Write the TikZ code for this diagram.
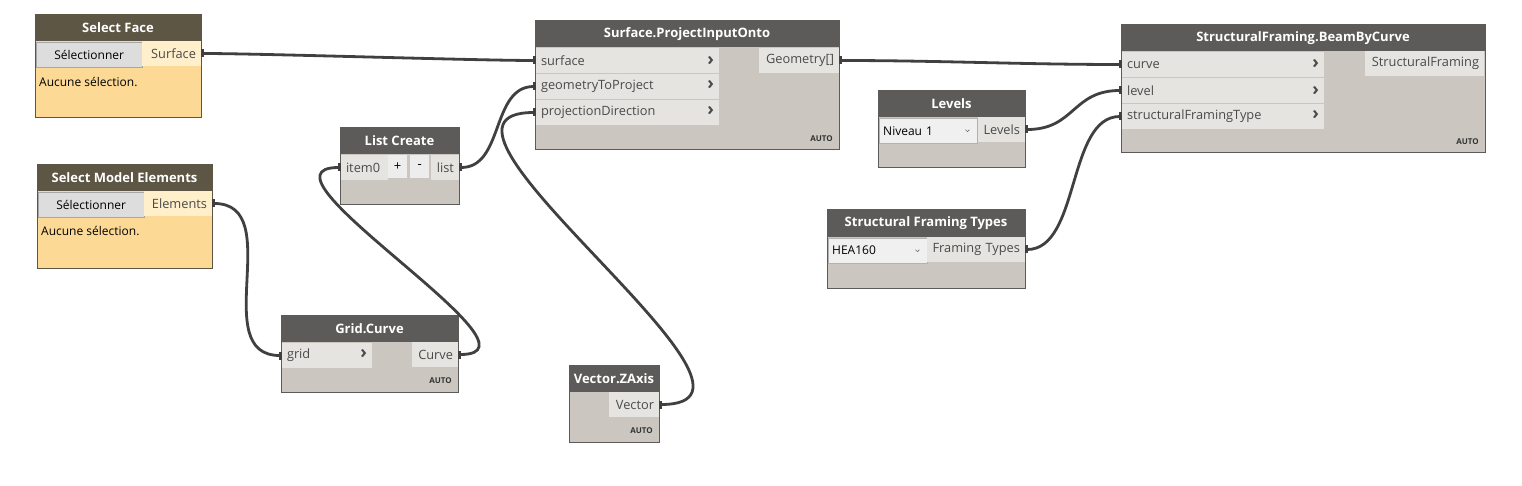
\documentclass[tikz,border=0pt]{standalone}
\usepackage{fontspec}
\setmainfont{Open Sans}
\usepackage{tikz}
\usetikzlibrary{arrows.meta}

\definecolor{hdrgray}{HTML}{5D5B59}
\definecolor{hdrbrown}{HTML}{5E5644}
\definecolor{bodygray}{HTML}{CBC7C0}
\definecolor{rowgray}{HTML}{E6E4E0}
\definecolor{bodyyel}{HTML}{FCDA96}
\definecolor{outyel}{HTML}{FFEFCA}
\definecolor{btngray}{HTML}{DDDDDD}
\definecolor{wirecol}{HTML}{404040}
\definecolor{porttext}{HTML}{4A4A4A}
\definecolor{dropfill}{HTML}{F0F0F0}

\newcommand\ptfont{\fontsize{12.8}{15}\selectfont}
\newcommand\chev{{\fontsize{18}{15}\selectfont\bfseries ›}}

\tikzset{
	nodebox/.style={draw=hdrgray, line width=1pt, fill=bodygray, anchor=north west, inner sep=0pt, outer sep=0pt},
	hdr/.style={fill=hdrgray, text=white, font=\fontsize{13}{15}\selectfont\bfseries, anchor=north west, inner sep=0pt, outer sep=0pt},
	inport/.style={fill=rowgray, text=porttext, font=\ptfont, anchor=north west, minimum height=25pt, text width=#1, align=left, inner xsep=5pt, inner ysep=0pt, outer sep=0pt},
	outport/.style={fill=rowgray, text=porttext, font=\ptfont, anchor=north west, minimum height=25pt, text width=#1, align=right, inner xsep=5pt, inner ysep=0pt, outer sep=0pt},
	btn/.style={fill=btngray, draw=gray!70, text=black, font=\fontsize{12}{14}\selectfont, anchor=north west, minimum height=25pt, inner sep=0pt},
	plusminus/.style={fill=black!7, text=black, font=\fontsize{13}{13}\selectfont, anchor=north west, minimum width=19pt, minimum height=23pt, inner sep=0pt},
	dropbox/.style={fill=dropfill, draw=black!30, text=black, font=\fontsize{12}{14}\selectfont, anchor=north west, minimum height=25pt, text width=#1, align=left, inner xsep=4pt, inner ysep=0pt},
	note/.style={text=black, font=\fontsize{12}{14}\selectfont, anchor=west, inner sep=0pt},
	lacing/.style={text=black!80, font=\fontsize{8}{9}\selectfont\bfseries, anchor=east, inner sep=0pt},
	wire/.style={draw=wirecol, line width=2.8pt, {Rectangle[length=3pt,width=8pt]}-{Rectangle[length=3pt,width=8pt]}}
}

\begin{document}
\begin{tikzpicture}[x=1pt,y=-1pt]
	\useasboundingbox[fill=white] (0,0) rectangle (1522,486);

	% Select Face
	\node[nodebox, draw=hdrbrown, fill=bodyyel, minimum width=166pt, minimum height=103pt] (sf) at (35,15) {};
	\node[hdr, fill=hdrbrown, minimum width=166pt, minimum height=26pt] (sfT) at (35,15) {Select Face};
	\node[btn, minimum width=106pt] (sfB) at (36,42) {Sélectionner};
	\node[outport=49pt, fill=outyel] (sfS) at (142,41) {Surface};
	\node[note] (sfN) at (39,82) {Aucune sélection.};

	% Select Model Elements
	\node[nodebox, draw=hdrbrown, fill=bodyyel, minimum width=175pt, minimum height=103pt] (sme) at (37,165) {};
	\node[hdr, fill=hdrbrown, minimum width=175pt, minimum height=26pt] (smeT) at (37,165) {Select Model Elements};
	\node[btn, minimum width=106pt] (smeB) at (38,192) {Sélectionner};
	\node[outport=58pt, fill=outyel] (smeE) at (144,191) {Elements};
	\node[note] (smeN) at (41,231) {Aucune sélection.};

	% List Create
	\node[nodebox, minimum width=119pt, minimum height=77pt] (lc) at (340,128) {};
	\node[hdr, minimum width=119pt, minimum height=26pt] (lcT) at (340,128) {List Create};
	\node[inport=37pt] (lcI) at (341,155) {item0};
	\node[plusminus] (lcP) at (388,155) {+};
	\node[plusminus] (lcM) at (410,155) {-};
	\node[outport=18pt] (lcL) at (431,155) {list};

	% Surface.ProjectInputOnto
	\node[nodebox, minimum width=304pt, minimum height=129pt] (pio) at (535,21) {};
	\node[hdr, minimum width=304pt, minimum height=26pt] (pioT) at (535,21) {Surface.ProjectInputOnto};
	\node[inport=173pt] (pioA) at (536,48) {surface\hfill\chev};
	\node[inport=173pt] (pioB) at (536,74) {geometryToProject\hfill\chev};
	\node[inport=173pt] (pioC) at (536,100) {projectionDirection\hfill\chev};
	\node[outport=70pt] (pioG) at (759,48) {Geometry[]};
	\node[lacing] (pioX) at (833,139) {AUTO};

	% StructuralFraming.BeamByCurve
	\node[nodebox, minimum width=364pt, minimum height=128pt] (bbc) at (1121,25) {};
	\node[hdr, minimum width=364pt, minimum height=26pt] (bbcT) at (1121,25) {StructuralFraming.BeamByCurve};
	\node[inport=192pt] (bbcA) at (1122,52) {curve\hfill\chev};
	\node[inport=192pt] (bbcB) at (1122,78) {level\hfill\chev};
	\node[inport=192pt] (bbcC) at (1122,104) {structuralFramingType\hfill\chev};
	\node[outport=109pt] (bbcS) at (1365,51) {StructuralFraming};
	\node[lacing] (bbcX) at (1479,142) {AUTO};

	% Levels
	\node[nodebox, minimum width=147pt, minimum height=77pt] (lv) at (878,91) {};
	\node[hdr, minimum width=147pt, minimum height=26pt] (lvT) at (878,91) {Levels};
	\node[dropbox=90pt] (lvD) at (879,118) {Niveau 1};
	\draw[black!55, line width=0.6pt] ([xshift=-12pt,yshift=1pt]lvD.east) -- ++(2,2) -- ++(2,-2);
	\node[outport=37pt] (lvO) at (978,117) {Levels};

	% Structural Framing Types
	\node[nodebox, minimum width=198pt, minimum height=78pt] (sft) at (827,210) {};
	\node[hdr, minimum width=198pt, minimum height=27pt] (sftT) at (827,210) {Structural Framing Types};
	\node[dropbox=91pt] (sftD) at (828,238) {HEA160};
	\draw[black!55, line width=0.6pt] ([xshift=-12pt,yshift=1pt]sftD.east) -- ++(2,2) -- ++(2,-2);
	\node[outport=88pt] (sftO) at (927,237) {Framing Types};

	% Grid.Curve
	\node[nodebox, minimum width=177pt, minimum height=77pt] (gc) at (281,315) {};
	\node[hdr, minimum width=177pt, minimum height=27pt] (gcT) at (281,315) {Grid.Curve};
	\node[inport=80pt] (gcG) at (282,343) {grid\hfill\chev};
	\node[outport=36pt] (gcC) at (412,342) {Curve};
	\node[lacing] (gcX) at (452,381) {AUTO};

	% Vector.ZAxis
	\node[nodebox, minimum width=90pt, minimum height=77pt] (vz) at (569,365) {};
	\node[hdr, minimum width=90pt, minimum height=27pt] (vzT) at (569,365) {Vector.ZAxis};
	\node[outport=40pt] (vzV) at (609,392) {Vector};
	\node[lacing] (vzX) at (653,431) {AUTO};

	% wires
	\draw[wire] (sfS.east) .. controls +(60,0) and +(-60,0) .. (pioA.west);
	\draw[wire] (lcL.east) .. controls +(45,0) and +(-45,0) .. (pioB.west);
	\draw[wire] (vzV.east) .. controls +(150,0) and +(-150,0) .. (pioC.west);
	\draw[wire] (smeE.east) .. controls +(75,0) and +(-75,0) .. (gcG.west);
	\draw[wire] (gcC.east) .. controls +(100,0) and +(-100,0) .. (lcI.west);
	\draw[wire] (pioG.east) .. controls +(100,0) and +(-100,0) .. (bbcA.west);
	\draw[wire] (lvO.east) .. controls +(50,0) and +(-50,0) .. (bbcB.west);
	\draw[wire] (sftO.east) .. controls +(55,0) and +(-55,0) .. (bbcC.west);
\end{tikzpicture}
\end{document}
